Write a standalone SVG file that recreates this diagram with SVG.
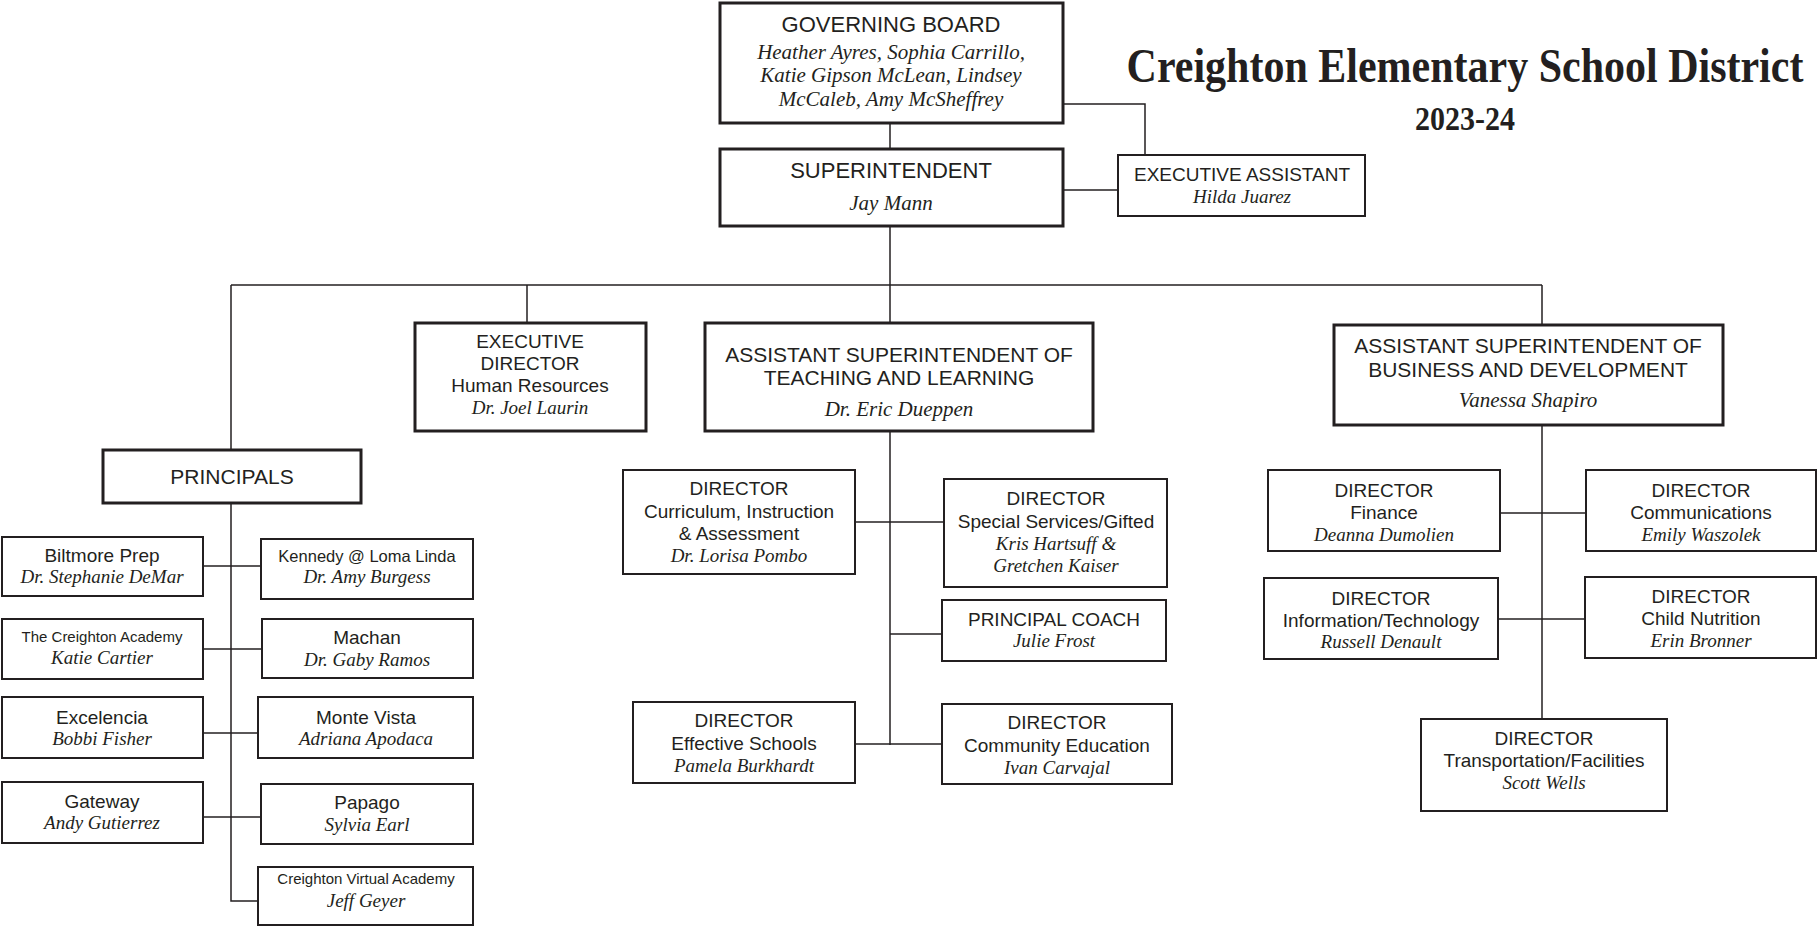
<svg xmlns="http://www.w3.org/2000/svg" width="1818" height="927" viewBox="0 0 1818 927">
<style>
  .bg{fill:#ffffff}
  .box{fill:#ffffff;stroke:#231f20;stroke-width:2}
  .thick{stroke-width:3}
  .ln{fill:none;stroke:#231f20;stroke-width:1.5}
  text{fill:#231f20;text-anchor:middle}
  .s{font-family:"Liberation Sans",Arial,sans-serif;font-size:19px}
  .sl{font-family:"Liberation Sans",Arial,sans-serif;font-size:21px}
  .sx{font-family:"Liberation Sans",Arial,sans-serif;font-size:22px}
  .sm{font-family:"Liberation Sans",Arial,sans-serif;font-size:15px}
  .sk{font-family:"Liberation Sans",Arial,sans-serif;font-size:16.5px}
  .i{font-family:"Liberation Serif","Times New Roman",serif;font-style:italic;font-size:19px}
  .il{font-family:"Liberation Serif","Times New Roman",serif;font-style:italic;font-size:21px}
  .t{font-family:"Liberation Serif","Times New Roman",serif;font-weight:bold}
</style>
<rect class="bg" x="0" y="0" width="1818" height="927"/>

<g id="title">
  <text class="t" transform="translate(1465,82) scale(1,1.18)" x="0" y="0" font-size="42">Creighton Elementary School District</text>
  <text class="t" transform="translate(1465,130) scale(1,1.1)" x="0" y="0" font-size="30">2023-24</text>
</g>

<g id="connectors">
  <line class="ln" x1="890" y1="124" x2="890" y2="149"/>
  <polyline class="ln" points="1064,104 1145,104 1145,155"/>
  <line class="ln" x1="1064" y1="190" x2="1118" y2="190"/>
  <line class="ln" x1="890" y1="227" x2="890" y2="323"/>
  <line class="ln" x1="231" y1="285" x2="1542" y2="285"/>
  <line class="ln" x1="231" y1="285" x2="231" y2="450"/>
  <line class="ln" x1="527" y1="285" x2="527" y2="323"/>
  <line class="ln" x1="1542" y1="285" x2="1542" y2="325"/>
  <!-- principals -->
  <polyline class="ln" points="231,503 231,901 258,901"/>
  <line class="ln" x1="203" y1="566" x2="261" y2="566"/>
  <line class="ln" x1="203" y1="649" x2="262" y2="649"/>
  <line class="ln" x1="203" y1="733" x2="258" y2="733"/>
  <line class="ln" x1="203" y1="817" x2="261" y2="817"/>
  <!-- teaching and learning -->
  <line class="ln" x1="890" y1="431" x2="890" y2="745"/>
  <line class="ln" x1="855" y1="522" x2="944" y2="522"/>
  <line class="ln" x1="890" y1="634" x2="942" y2="634"/>
  <line class="ln" x1="855" y1="744" x2="942" y2="744"/>
  <!-- business and development -->
  <line class="ln" x1="1542" y1="425" x2="1542" y2="719"/>
  <line class="ln" x1="1500" y1="513" x2="1586" y2="513"/>
  <line class="ln" x1="1498" y1="619" x2="1585" y2="619"/>
</g>

<g id="governing-board">
  <rect class="box thick" x="720" y="3" width="343" height="120"/>
  <text class="sx" x="891" y="32">GOVERNING BOARD</text>
  <text class="il" x="891" y="59">Heather Ayres, Sophia Carrillo,</text>
  <text class="il" x="891" y="82">Katie Gipson McLean, Lindsey</text>
  <text class="il" x="891" y="106">McCaleb, Amy McSheffrey</text>
</g>

<g id="superintendent">
  <rect class="box thick" x="720" y="149" width="343" height="77"/>
  <text class="sx" x="891" y="178">SUPERINTENDENT</text>
  <text class="il" x="891" y="210">Jay Mann</text>
</g>

<g id="executive-assistant">
  <rect class="box" x="1118" y="155" width="247" height="61"/>
  <text class="s" x="1242" y="181">EXECUTIVE ASSISTANT</text>
  <text class="i" x="1242" y="203">Hilda Juarez</text>
</g>

<g id="exec-director-hr">
  <rect class="box thick" x="415" y="323" width="231" height="108"/>
  <text class="s" x="530" y="348">EXECUTIVE</text>
  <text class="s" x="530" y="370">DIRECTOR</text>
  <text class="s" x="530" y="392" font-size="18.5">Human Resources</text>
  <text class="i" x="530" y="414">Dr. Joel Laurin</text>
</g>

<g id="asst-supt-tl">
  <rect class="box thick" x="705" y="323" width="388" height="108"/>
  <text class="sl" x="899" y="362">ASSISTANT SUPERINTENDENT OF</text>
  <text class="sl" x="899" y="385">TEACHING AND LEARNING</text>
  <text class="il" x="899" y="416">Dr. Eric Dueppen</text>
</g>

<g id="asst-supt-bd">
  <rect class="box thick" x="1334" y="325" width="389" height="100"/>
  <text class="sl" x="1528" y="353">ASSISTANT SUPERINTENDENT OF</text>
  <text class="sl" x="1528" y="377">BUSINESS AND DEVELOPMENT</text>
  <text class="il" x="1528" y="407">Vanessa Shapiro</text>
</g>

<g id="principals">
  <rect class="box thick" x="103" y="450" width="258" height="53"/>
  <text class="sl" x="232" y="484">PRINCIPALS</text>
</g>

<g id="biltmore-prep">
  <rect class="box" x="2" y="537" width="201" height="59"/>
  <text class="s" x="102" y="562">Biltmore Prep</text>
  <text class="i" x="102" y="583">Dr. Stephanie DeMar</text>
</g>
<g id="kennedy">
  <rect class="box" x="261" y="539" width="212" height="60"/>
  <text class="sk" x="367" y="562">Kennedy @ Loma Linda</text>
  <text class="i" x="367" y="583">Dr. Amy Burgess</text>
</g>
<g id="creighton-academy">
  <rect class="box" x="2" y="619" width="201" height="60"/>
  <text class="sm" x="102" y="642">The Creighton Academy</text>
  <text class="i" x="102" y="664">Katie Cartier</text>
</g>
<g id="machan">
  <rect class="box" x="262" y="619" width="211" height="59"/>
  <text class="s" x="367" y="644">Machan</text>
  <text class="i" x="367" y="666">Dr. Gaby Ramos</text>
</g>
<g id="excelencia">
  <rect class="box" x="2" y="697" width="201" height="61"/>
  <text class="s" x="102" y="724">Excelencia</text>
  <text class="i" x="102" y="745">Bobbi Fisher</text>
</g>
<g id="monte-vista">
  <rect class="box" x="258" y="697" width="215" height="61"/>
  <text class="s" x="366" y="724">Monte Vista</text>
  <text class="i" x="366" y="745">Adriana Apodaca</text>
</g>
<g id="gateway">
  <rect class="box" x="2" y="782" width="201" height="61"/>
  <text class="s" x="102" y="808">Gateway</text>
  <text class="i" x="102" y="829">Andy Gutierrez</text>
</g>
<g id="papago">
  <rect class="box" x="261" y="784" width="212" height="60"/>
  <text class="s" x="367" y="809">Papago</text>
  <text class="i" x="367" y="831">Sylvia Earl</text>
</g>
<g id="creighton-virtual-academy">
  <rect class="box" x="258" y="867" width="215" height="58"/>
  <text class="sm" x="366" y="884">Creighton Virtual Academy</text>
  <text class="i" x="366" y="907">Jeff Geyer</text>
</g>

<g id="dir-curriculum">
  <rect class="box" x="623" y="470" width="232" height="104"/>
  <text class="s" x="739" y="495">DIRECTOR</text>
  <text class="s" x="739" y="518">Curriculum, Instruction</text>
  <text class="s" x="739" y="540">&amp; Assessment</text>
  <text class="i" x="739" y="562">Dr. Lorisa Pombo</text>
</g>
<g id="dir-special-services">
  <rect class="box" x="944" y="479" width="223" height="108"/>
  <text class="s" x="1056" y="505">DIRECTOR</text>
  <text class="s" x="1056" y="528">Special Services/Gifted</text>
  <text class="i" x="1056" y="550">Kris Hartsuff &amp;</text>
  <text class="i" x="1056" y="572">Gretchen Kaiser</text>
</g>
<g id="principal-coach">
  <rect class="box" x="942" y="600" width="224" height="61"/>
  <text class="s" x="1054" y="626">PRINCIPAL COACH</text>
  <text class="i" x="1054" y="647">Julie Frost</text>
</g>
<g id="dir-effective-schools">
  <rect class="box" x="633" y="702" width="222" height="81"/>
  <text class="s" x="744" y="727">DIRECTOR</text>
  <text class="s" x="744" y="750">Effective Schools</text>
  <text class="i" x="744" y="772">Pamela Burkhardt</text>
</g>
<g id="dir-community-education">
  <rect class="box" x="942" y="704" width="230" height="80"/>
  <text class="s" x="1057" y="729">DIRECTOR</text>
  <text class="s" x="1057" y="752">Community Education</text>
  <text class="i" x="1057" y="774">Ivan Carvajal</text>
</g>

<g id="dir-finance">
  <rect class="box" x="1268" y="470" width="232" height="81"/>
  <text class="s" x="1384" y="497">DIRECTOR</text>
  <text class="s" x="1384" y="519">Finance</text>
  <text class="i" x="1384" y="541">Deanna Dumolien</text>
</g>
<g id="dir-communications">
  <rect class="box" x="1586" y="470" width="230" height="81"/>
  <text class="s" x="1701" y="497">DIRECTOR</text>
  <text class="s" x="1701" y="519">Communications</text>
  <text class="i" x="1701" y="541">Emily Waszolek</text>
</g>
<g id="dir-it">
  <rect class="box" x="1264" y="578" width="234" height="81"/>
  <text class="s" x="1381" y="605">DIRECTOR</text>
  <text class="s" x="1381" y="627">Information/Technology</text>
  <text class="i" x="1381" y="648">Russell Denault</text>
</g>
<g id="dir-child-nutrition">
  <rect class="box" x="1585" y="577" width="231" height="81"/>
  <text class="s" x="1701" y="603">DIRECTOR</text>
  <text class="s" x="1701" y="625">Child Nutrition</text>
  <text class="i" x="1701" y="647">Erin Bronner</text>
</g>
<g id="dir-transportation">
  <rect class="box" x="1421" y="719" width="246" height="92"/>
  <text class="s" x="1544" y="745">DIRECTOR</text>
  <text class="s" x="1544" y="767">Transportation/Facilities</text>
  <text class="i" x="1544" y="789">Scott Wells</text>
</g>
</svg>
